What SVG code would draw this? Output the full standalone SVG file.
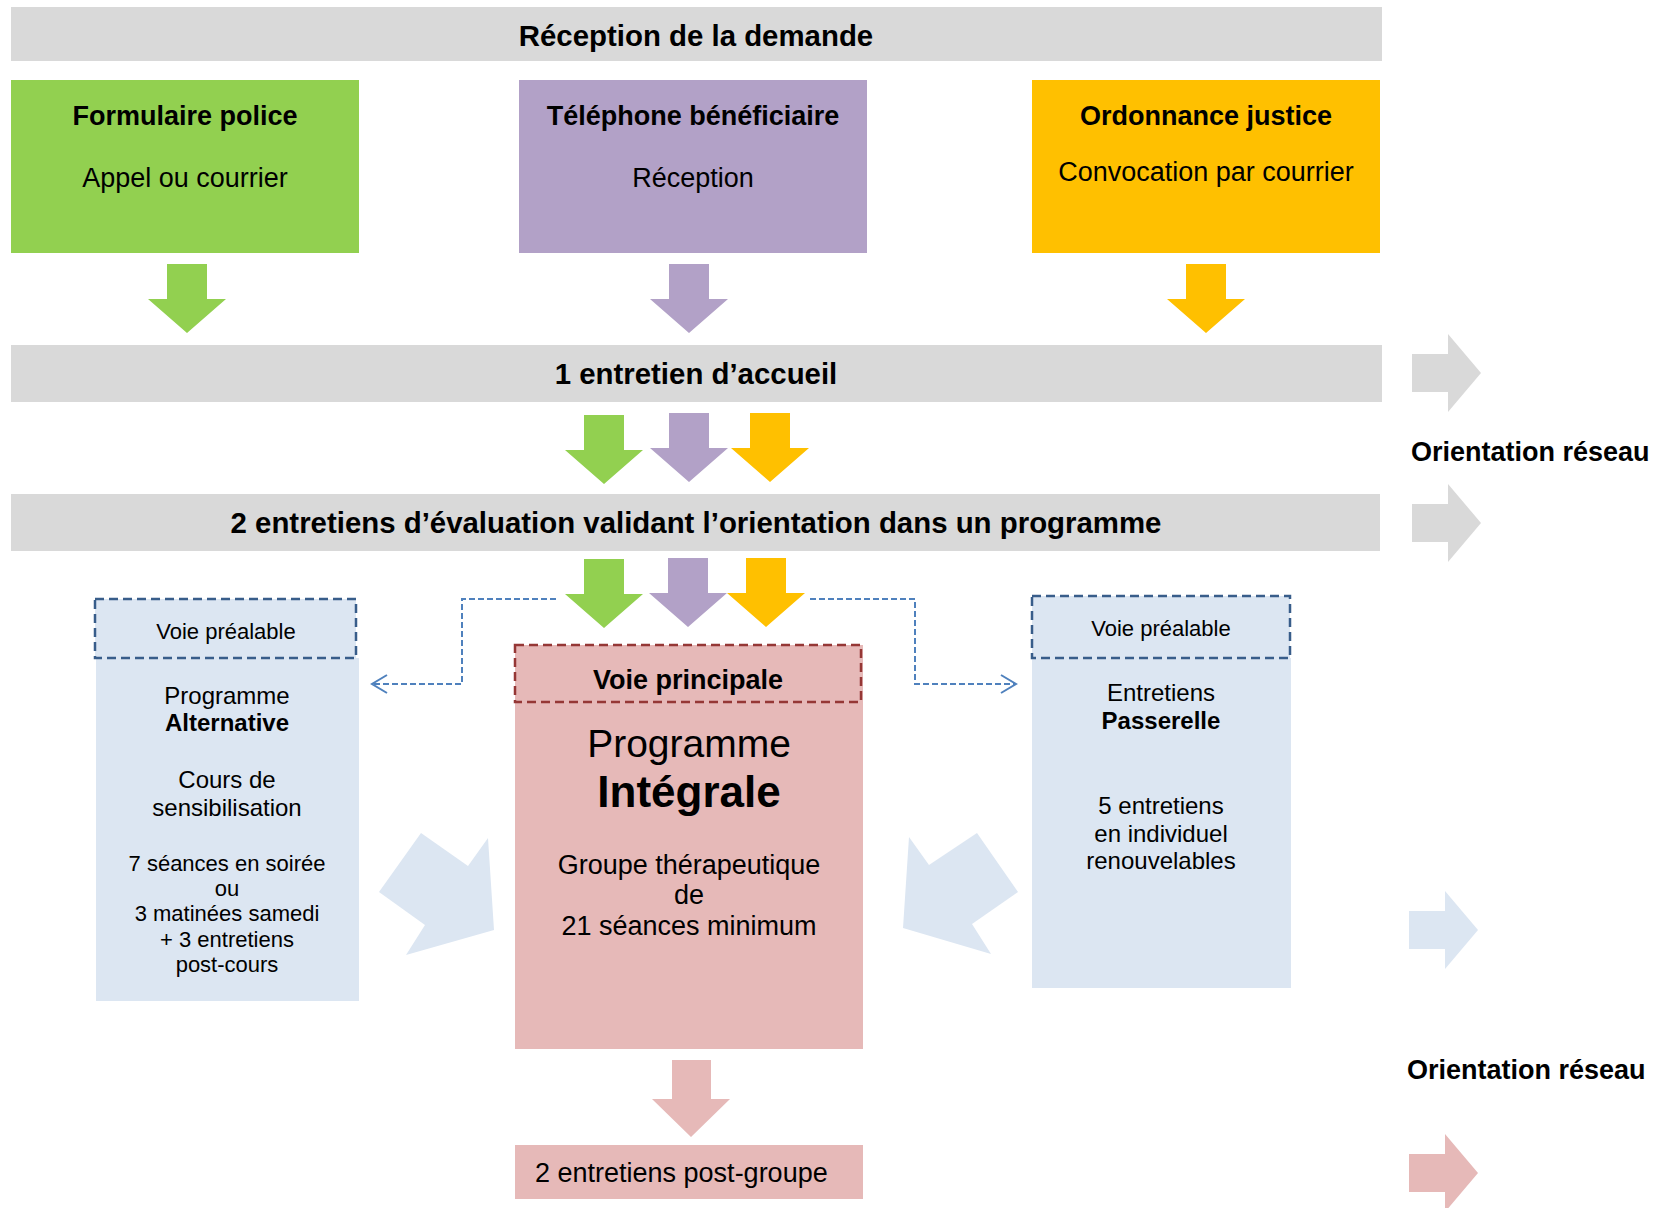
<svg xmlns="http://www.w3.org/2000/svg" xmlns:xlink="http://www.w3.org/1999/xlink" width="1656" height="1208" viewBox="0 0 1656 1208">
<style>
text{font-family:"Liberation Sans",Arial,sans-serif;fill:#000;text-anchor:middle}
.bar{font-size:29.4px;font-weight:bold}
.tb{font-size:27px;font-weight:bold}
.tr{font-size:27px}
.r24{font-size:24px}
.b24{font-size:24px;font-weight:bold}
.r22{font-size:22px}
.grey{fill:#D9D9D9}
.green{fill:#92D050}
.purple{fill:#B2A1C7}
.yellow{fill:#FFC000}
.lblue{fill:#DCE6F2}
.pink{fill:#E6B9B8}
.dashc{fill:none;stroke:#4F81BD;stroke-width:2;stroke-dasharray:6 3}
.hdrb{fill:#DCE6F2;stroke:#385D8A;stroke-width:2.5;stroke-dasharray:9 5}
.hdrr{fill:#E6B9B8;stroke:#953735;stroke-width:2.5;stroke-dasharray:9 5}
</style>
<defs>
<path id="dn" d="M-20,0 H20 V35 H39 L0,69 L-39,35 H-20 Z"/>
<path id="rt" d="M0,-19 H36 V-39 L69,0 L36,39 V19 H0 Z"/>
<marker id="open" markerUnits="userSpaceOnUse" markerWidth="20" markerHeight="22" refX="16" refY="10" orient="auto">
<path d="M1,1 L16,10 L1,19" fill="none" stroke="#4F81BD" stroke-width="2"/>
</marker>
</defs>

<g id="reception">
<rect class="grey" x="11" y="7" width="1371" height="54"/>
<text class="bar" x="696" y="46">Réception de la demande</text>
</g>

<g id="formulaire">
<rect class="green" x="11" y="80" width="348" height="173"/>
<text class="tb" x="185" y="125">Formulaire police</text>
<text class="tr" x="185" y="187">Appel ou courrier</text>
</g>

<g id="telephone">
<rect class="purple" x="519" y="80" width="348" height="173"/>
<text class="tb" x="693" y="125">Téléphone bénéficiaire</text>
<text class="tr" x="693" y="187">Réception</text>
</g>

<g id="ordonnance">
<rect class="yellow" x="1032" y="80" width="348" height="173"/>
<text class="tb" x="1206" y="125">Ordonnance justice</text>
<text class="tr" x="1206" y="181">Convocation par courrier</text>
</g>

<g id="accueil">
<rect class="grey" x="11" y="345" width="1371" height="57"/>
<text class="bar" x="696" y="384">1 entretien d’accueil</text>
</g>

<g id="evaluation">
<rect class="grey" x="11" y="494" width="1369" height="57"/>
<text class="bar" x="696" y="533">2 entretiens d’évaluation validant l’orientation dans un programme</text>
</g>

<g id="alternative">
<rect class="lblue" x="96" y="658" width="263" height="343"/>
<rect class="hdrb" x="95" y="599" width="261" height="59"/>
<text class="r22" x="226" y="639">Voie préalable</text>
<text class="r24" x="227" y="704">Programme</text>
<text class="b24" x="227" y="731">Alternative</text>
<text class="r24" x="227" y="788">Cours de</text>
<text class="r24" x="227" y="816">sensibilisation</text>
<text class="r22" x="227" y="871">7 séances en soirée</text>
<text class="r22" x="227" y="896">ou</text>
<text class="r22" x="227" y="921">3 matinées samedi</text>
<text class="r22" x="227" y="947">+ 3 entretiens</text>
<text class="r22" x="227" y="972">post-cours</text>
</g>

<g id="integrale">
<rect class="pink" x="515" y="645" width="348" height="404"/>
<rect class="hdrr" x="515" y="645" width="346" height="57"/>
<text class="tb" x="688" y="689">Voie principale</text>
<text x="689" y="757" style="font-size:39px">Programme</text>
<text x="689" y="807" style="font-size:44px;font-weight:bold">Intégrale</text>
<text class="tr" x="689" y="874">Groupe thérapeutique</text>
<text class="tr" x="689" y="904">de</text>
<text class="tr" x="689" y="935">21 séances minimum</text>
</g>

<g id="passerelle">
<rect class="lblue" x="1032" y="658" width="259" height="330"/>
<rect class="hdrb" x="1032" y="596" width="258" height="62"/>
<text class="r22" x="1161" y="636">Voie préalable</text>
<text class="r24" x="1161" y="701">Entretiens</text>
<text class="b24" x="1161" y="729">Passerelle</text>
<text class="r24" x="1161" y="814">5 entretiens</text>
<text class="r24" x="1161" y="842">en individuel</text>
<text class="r24" x="1161" y="869">renouvelables</text>
</g>

<g id="postgroupe">
<rect class="pink" x="515" y="1145" width="348" height="54"/>
<text class="tr" x="535" y="1182" style="text-anchor:start">2 entretiens post-groupe</text>
</g>

<g id="orientation1">
<text class="tb" x="1411" y="461" style="text-anchor:start">Orientation réseau</text>
</g>
<g id="orientation2">
<text class="tb" x="1407" y="1079" style="text-anchor:start">Orientation réseau</text>
</g>

<g id="connectors">
<use href="#dn" x="187" y="264" class="green"/>
<use href="#dn" x="689" y="264" class="purple"/>
<use href="#dn" x="1206" y="264" class="yellow"/>

<use href="#dn" x="604" y="415" class="green"/>
<use href="#dn" x="689" y="413" class="purple"/>
<use href="#dn" x="770" y="413" class="yellow"/>

<use href="#dn" x="604" y="559" class="green"/>
<use href="#dn" x="688" y="558" class="purple"/>
<use href="#dn" x="766" y="558" class="yellow"/>

<path class="pink" d="M672,1060 H711 V1099 H730 L691,1137 L652,1099 H672 Z"/>

<use href="#rt" x="1412" y="373" class="grey"/>
<use href="#rt" x="1412" y="523" class="grey"/>
<use href="#rt" x="1409" y="930" class="lblue"/>
<use href="#rt" x="1409" y="1173" class="pink"/>

<polygon class="lblue" points="379,892 421,833 468,866 488,838 494,930 406,955 425,925"/>
<polygon class="lblue" points="909,837 929,865 977,833 1018,892 972,924 991,954 903,928"/>

<path class="dashc" d="M556,599 H462 V684 H372" marker-end="url(#open)"/>
<path class="dashc" d="M810,599 H915 V684 H1016" marker-end="url(#open)"/>
</g>
</svg>
